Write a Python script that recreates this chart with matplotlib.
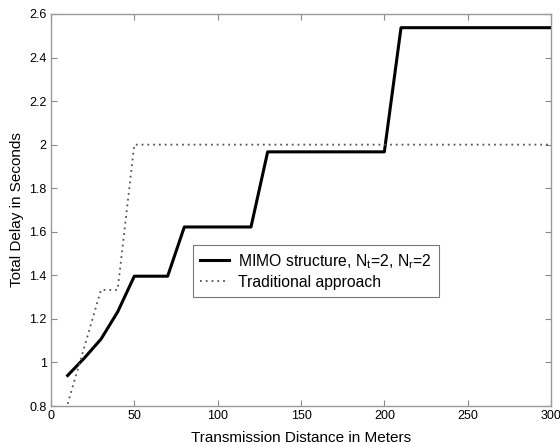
import numpy as np
from matplotlib import pyplot as plt

plt.rcParams['font.family'] = ['Liberation Sans', 'DejaVu Sans']
plt.rcParams['mathtext.default'] = 'regular'

# distances (m) and delays (s)
mimo_x = [10, 20, 30, 40, 50, 70, 80, 120, 130, 200, 210, 300]
mimo_y = [0.94, 1.02, 1.107, 1.232, 1.396, 1.396, 1.622, 1.622, 1.967, 1.967, 2.537, 2.537]
trad_x = [10, 20, 30, 40, 50, 300]
trad_y = [0.81, 1.07, 1.333, 1.333, 2.0, 2.0]

xticks = [0, 50, 100, 150, 200, 250, 300]
yticks = [0.8, 1, 1.2, 1.4, 1.6, 1.8, 2, 2.2, 2.4, 2.6]
ytick_labels = ['0.8', '1', '1.2', '1.4', '1.6', '1.8', '2', '2.2', '2.4', '2.6']

fig = plt.figure(figsize=(5.6, 4.45), dpi=100)
ax = fig.add_axes([0.091, 0.0876, 0.893, 0.881])

ax.plot(mimo_x, mimo_y, color='black', lw=2.2, label=r'MIMO structure, N$_t$=2, N$_r$=2')
ax.plot(trad_x, trad_y, color='#555555', lw=1.3, ls=(0, (1, 2.2)), label='Traditional approach')

ax.set_xlim(0, 300)
ax.set_ylim(0.8, 2.6)
ax.set_xticks(xticks)
ax.set_yticks(yticks)
ax.set_yticklabels(ytick_labels)
ax.tick_params(direction='in', top=True, right=True, length=4, width=0.8,
               color='#888888', labelsize=9, pad=3)
for s in ax.spines.values():
    s.set_color('#999999')
    s.set_linewidth(1.0)

ax.set_xlabel('Transmission Distance in Meters', fontsize=11, labelpad=6)
ax.set_ylabel('Total Delay in Seconds', fontsize=11, labelpad=4)

leg = ax.legend(loc='upper left', bbox_to_anchor=(0.284, 0.411), fontsize=11.3,
                fancybox=False, framealpha=1, edgecolor='#777777',
                handlelength=1.85, handletextpad=0.6, borderaxespad=0,
                borderpad=0.45, labelspacing=0.25)
leg.get_frame().set_linewidth(0.8)

fig.savefig('out.png', dpi=100)
